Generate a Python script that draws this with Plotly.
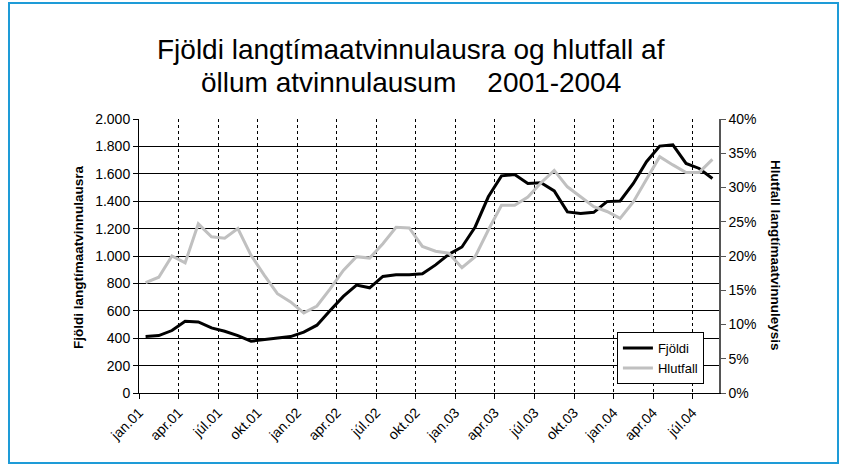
import plotly.graph_objects as go

month_names = ["jan", "feb", "mar", "apr", "maí", "jún", "júl", "ágú", "sep", "okt", "nóv", "des"]
years = ["01", "02", "03", "04"]
months = [f"{m}.{y}" for y in years for m in month_names][:44]

fjoldi = [412, 419, 456, 524, 519, 475, 451, 419, 378, 388, 397, 412,
          444, 495, 602, 705, 788, 768, 851, 863, 863, 870, 935, 1012,
          1066, 1212, 1432, 1585, 1595, 1529, 1534, 1475, 1322, 1310, 1319, 1397,
          1402, 1529, 1688, 1802, 1812, 1676, 1639, 1566]

hlutfall = [16.1, 16.9, 20.0, 19.0, 24.7, 22.8, 22.6, 24.0, 20.1, 17.2, 14.5, 13.3,
            11.7, 12.7, 15.2, 17.9, 19.9, 19.7, 21.8, 24.2, 24.1, 21.4, 20.7, 20.4,
            18.3, 19.9, 23.8, 27.4, 27.4, 28.6, 30.7, 32.5, 30.1, 28.7, 27.2, 26.5,
            25.5, 27.9, 31.3, 34.5, 33.3, 32.2, 32.2, 34.1]

tick_labels = months[::3]

title_lines = ["Fjöldi langtímaatvinnulausra og hlutfall af",
               "öllum atvinnulausum\u00a0\u00a0\u00a0\u00a02001-2004"]

x = list(range(len(months)))
tickvals = [i - 0.5 for i in range(0, len(months), 3)]

FONT = "Liberation Sans, Arial, sans-serif"

fig = go.Figure()
fig.add_trace(go.Scatter(x=x, y=fjoldi, name="Fjöldi", mode="lines",
                         line=dict(color="#000000", width=3), yaxis="y"))
fig.add_trace(go.Scatter(x=x, y=hlutfall, name="Hlutfall", mode="lines",
                         line=dict(color="#c0c0c0", width=3), yaxis="y2"))

fig.update_layout(
    width=842, height=468,
    margin=dict(l=139, r=123, t=119, b=75),
    paper_bgcolor="white", plot_bgcolor="white",
    font=dict(family=FONT, size=14, color="#000"),
    separators=",.",
    showlegend=True,
    legend=dict(x=0.824, y=0.222, xanchor="left", yanchor="top",
                bgcolor="white", bordercolor="#000", borderwidth=1,
                font=dict(size=13), itemwidth=30, tracegroupgap=0),
    xaxis=dict(range=[-0.5, len(months) - 0.5], tickmode="array",
               tickvals=tickvals, ticktext=tick_labels, tickangle=-45,
               tickfont=dict(size=14), showgrid=True, gridcolor="#000",
               griddash="3px,3px", gridwidth=1, showline=True, linecolor="#000",
               linewidth=1, ticks="outside", ticklen=5, tickcolor="#000",
               zeroline=False),
    yaxis=dict(range=[0, 2000], tickmode="linear", tick0=0, dtick=200,
               tickformat=",d", showgrid=True, gridcolor="#000", gridwidth=1,
               showline=True, linecolor="#000", linewidth=1, ticks="outside",
               ticklen=5, tickcolor="#000", zeroline=False),
    yaxis2=dict(range=[0, 40], tickmode="linear", tick0=0, dtick=5,
                ticksuffix="%", overlaying="y", side="right", showgrid=False,
                showline=True, linecolor="#555", linewidth=1.5, ticks="outside",
                ticklen=5, tickcolor="#555", zeroline=False),
)

for line_text, py in zip(title_lines, [50, 82]):
    fig.add_annotation(
        text=line_text,
        xref="paper", yref="paper", x=(411 - 139) / 580, y=(393 - py) / 274,
        xanchor="center", yanchor="middle", showarrow=False,
        font=dict(size=28, family=FONT, color="#000"))

fig.add_annotation(
    text="<b>Fjöldi langtímaatvinnulausra</b>", textangle=-90,
    xref="paper", yref="paper", x=(78 - 139) / 580, y=(393 - 257) / 274,
    xanchor="center", yanchor="middle", showarrow=False,
    font=dict(size=13.5, family=FONT, color="#000"))

fig.add_annotation(
    text="<b>Hlutfall langtímaatvinnuleysis</b>", textangle=90,
    xref="paper", yref="paper", x=(776 - 139) / 580, y=(393 - 255) / 274,
    xanchor="center", yanchor="middle", showarrow=False,
    font=dict(size=13.5, family=FONT, color="#000"))

fig.add_shape(type="rect", xref="paper", yref="paper",
              x0=(9 - 139) / 580, x1=(838 - 139) / 580,
              y0=(393 - 463) / 274, y1=(393 - 3) / 274,
              line=dict(color="#1e9bd7", width=2), fillcolor="rgba(0,0,0,0)")

fig.write_html("out.html", config={"displayModeBar": False},
               post_script="document.body.style.margin='0';")
